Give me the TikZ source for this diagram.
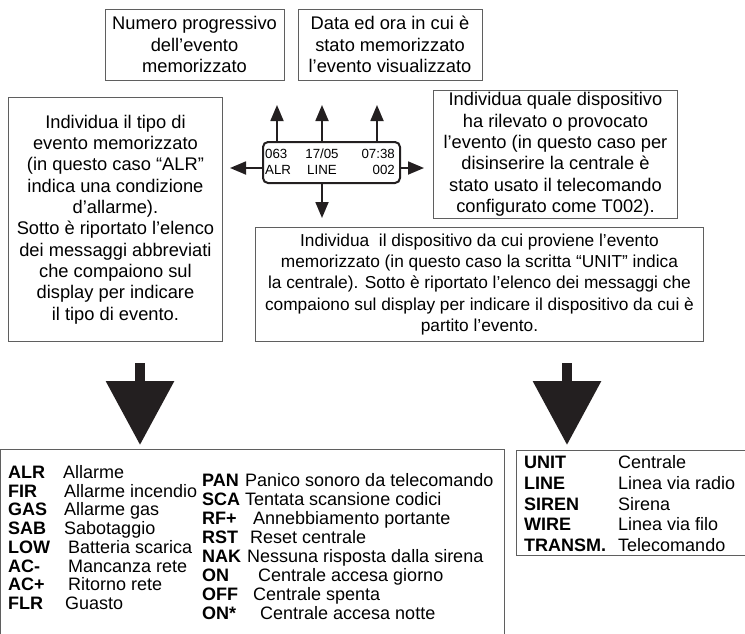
\documentclass[tikz,border=0pt]{standalone}
\usepackage{fontspec}
\setmainfont{Liberation Sans}
\usetikzlibrary{arrows.meta,positioning,calc}

\definecolor{inkblack}{RGB}{35,31,32}
\definecolor{boxgray}{RGB}{95,95,95}

\begin{document}
\begin{tikzpicture}[x=1pt,y=-1pt,
                     infobox/.style={
                                % The shape:
                                rectangle,inner sep=0pt,
                                % The rest
                                draw=boxgray,line width=0.9pt,
                                align=center,font=\fontsize{18.3}{21.3}\selectfont},
                     lcd/.style={rectangle,rounded corners=5pt,draw=inkblack,
                                 line width=2pt,inner sep=0pt},
                     lcdtext/.style={inner sep=0pt,font=\fontsize{13.3}{14}\selectfont},
                     pointer/.style={draw=inkblack,line width=1.8pt,
                                     -{Triangle[length=16pt,width=13pt]}},
                     bigarrow/.style={draw=inkblack,line width=10pt,
                                      -{Triangle[length=64pt,width=66pt]}},
                     code/.style={inner sep=0pt,anchor=base west,
                                  font=\fontsize{18}{18}\selectfont\bfseries},
                     descr/.style={inner sep=0pt,anchor=base west,
                                   font=\fontsize{18}{18}\selectfont}]
 \useasboundingbox (0,0) rectangle (745,633);

 % top notes
 \node (numero) [infobox,minimum width=179pt,minimum height=71pt] at (194.5,44.5)
       {Numero progressivo\\dell’evento\\memorizzato};
 \node (data)   [infobox,minimum width=184pt,minimum height=71pt] at (390,44.5)
       {Data ed ora in cui è\\stato memorizzato\\l’evento visualizzato};
 \node (tipo)   [infobox,minimum width=214pt,minimum height=244pt,anchor=north west] at (8,97)
       {Individua il tipo di\\evento memorizzato\\(in questo caso “ALR”\\indica una condizione\\d’allarme).\\Sotto è riportato l’elenco\\dei messaggi abbreviati\\che compaiono sul\\display per indicare\\il tipo di evento.};
 \node (quale)  [infobox,minimum width=244pt,minimum height=128pt,anchor=north west] at (433,90)
       {Individua quale dispositivo\\ha rilevato o provocato\\l’evento (in questo caso per\\disinserire la centrale è\\stato usato il telecomando\\configurato come T002).};
 \node (origine) [infobox,font=\fontsize{17.3}{21.3}\selectfont,
                  minimum width=448pt,minimum height=114pt,anchor=north west] at (255,227)
       {Individua\ \ il dispositivo da cui proviene l’evento\\memorizzato (in questo caso la scritta “UNIT” indica\\la centrale). Sotto è riportato l’elenco dei messaggi che\\compaiono sul display per indicare il dispositivo da cui è\\partito l’evento.};

 % the display
 \node (disp) [lcd,minimum width=137pt,minimum height=41pt] at (331.5,162.5) {};
 \node (num)  [lcdtext,anchor=base west] at (265,158) {063};
 \node (tipr) [lcdtext,anchor=base west] at (265,174) {ALR};
 \node (dat)  [lcdtext,anchor=base]      at (322,158) {17/05};
 \node (orig) [lcdtext,anchor=base]      at (322,174) {LINE};
 \node (ora)  [lcdtext,anchor=base east] at (395,158) {07:38};
 \node (disv) [lcdtext,anchor=base east] at (395,174) {002};

 \coordinate (upnum)  at (277,105);
 \coordinate (updat)  at (322,105);
 \coordinate (upora)  at (377,105);
 \coordinate (tosx)   at (230,168);
 \coordinate (todx)   at (424,168);
 \coordinate (togiu)  at (322,218);
 \draw [pointer] (disp.north -| upnum) -- (upnum);
 \draw [pointer] (disp.north -| updat) -- (updat);
 \draw [pointer] (disp.north -| upora) -- (upora);
 \draw [pointer] (disp.west |- tosx) -- (tosx);
 \draw [pointer] (disp.east |- todx) -- (todx);
 \draw [pointer] (disp.south -| togiu) -- (togiu);

 % the two lists
 \node (tipi)  [draw=boxgray,line width=0.9pt,minimum width=504pt,minimum height=200pt,
               inner sep=0pt,anchor=north west] at (0,449) {};
 \node (disps) [draw=boxgray,line width=0.9pt,minimum width=229pt,minimum height=105pt,
               inner sep=0pt,anchor=north west] at (516,450) {};

 \coordinate (sxtop) at (140,363);
 \coordinate (dxtop) at (567,363);
 \draw [bigarrow,shorten >=4pt] (sxtop) -- (tipi.north -| sxtop);
 \draw [bigarrow,shorten >=5pt] (dxtop) -- (disps.north -| dxtop);

 \foreach \c/\d/\x [count=\i from 0] in {ALR/Allarme/63,FIR/Allarme incendio/64,
     GAS/Allarme gas/64,SAB/Sabotaggio/64,LOW/Batteria scarica/68,
     AC-/Mancanza rete/68,AC+/Ritorno rete/68,FLR/Guasto/65}
   {\node (ta\i) [code]  at (8,478.5+18.7*\i)  {\c};
    \node (tb\i) [descr] at (\x,478.5+18.7*\i) {\d};}
 \foreach \c/\d/\x [count=\i from 0] in {PAN/Panico sonoro da telecomando/245,
     SCA/Tentata scansione codici/245,RF+/Annebbiamento portante/253,
     RST/Reset centrale/250,NAK/Nessuna risposta dalla sirena/247,
     ON/Centrale accesa giorno/258,OFF/Centrale spenta/253,
     ON*/Centrale accesa notte/260}
   {\node (tc\i) [code]  at (202,486.5+19*\i) {\c};
    \node (td\i) [descr] at (\x,486.5+19*\i)  {\d};}
 \foreach \c/\d [count=\i from 0] in {UNIT/Centrale,LINE/Linea via radio,
     SIREN/Sirena,WIRE/Linea via filo,TRANSM./Telecomando}
   {\node (da\i) [code]  at (524,468.5+20.8*\i) {\c};
    \node (db\i) [descr] at (618,468.5+20.8*\i) {\d};}
\end{tikzpicture}
\end{document}
